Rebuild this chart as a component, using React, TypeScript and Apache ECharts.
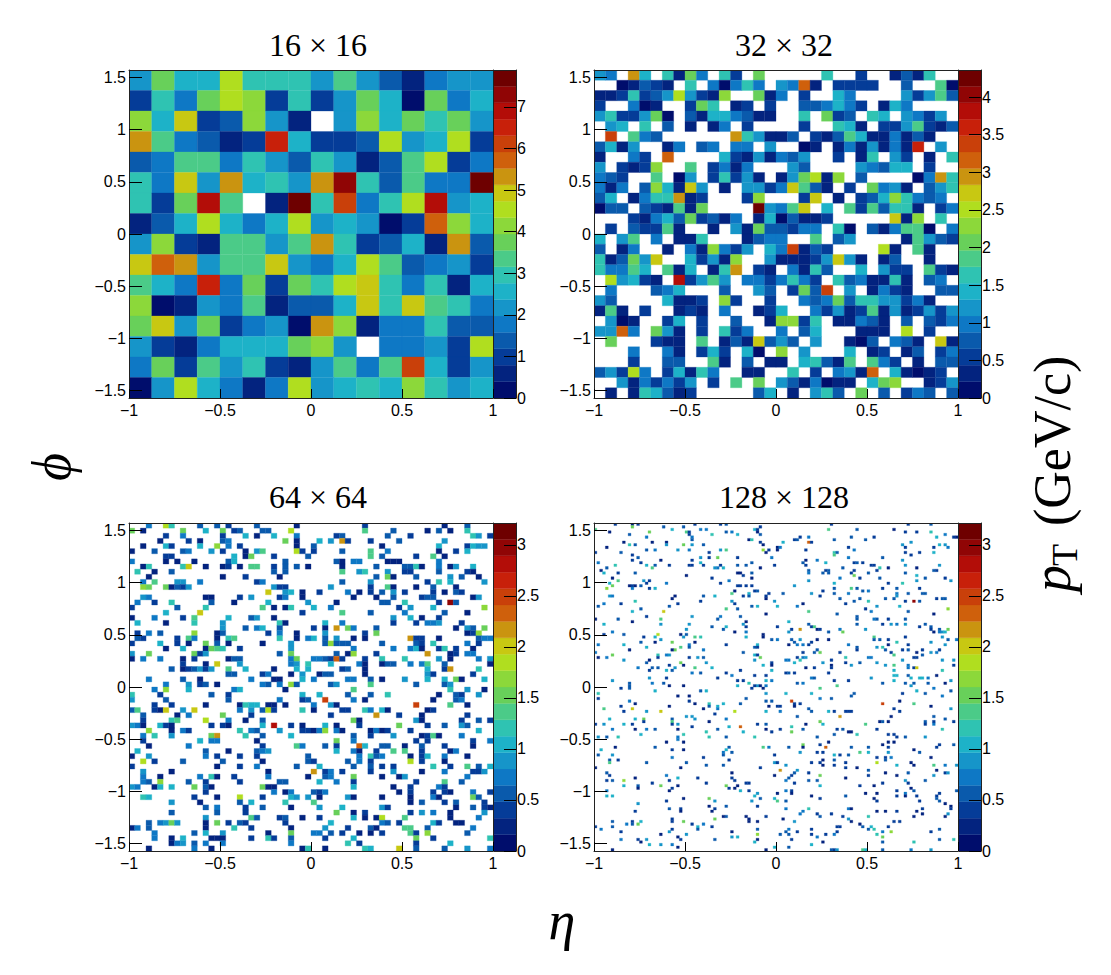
import React, { useEffect, useRef } from "react";
import * as echarts from "echarts";

const W = -1;
const palette = ["#000d6c","#03237f","#053c98","#0a5aac","#0e78c5","#1695c9","#1db2c8","#2fc3b2","#4bcb88","#68d05a","#8cd83a","#b0de1f","#c8c812","#ca9410","#cf600c","#c9400a","#c8200a","#b30d08","#900505","#6e0000"];

const xTicks = [-1, -0.5, 0, 0.5, 1];
const yTicks = [-1.5, -1, -0.5, 0, 0.5, 1, 1.5];
const zTicks16 = [0, 1, 2, 3, 4, 5, 6, 7];
const zTicks32 = [0, 0.5, 1, 1.5, 2, 2.5, 3, 3.5, 4];
const zTicks64 = [0, 0.5, 1, 1.5, 2, 2.5, 3];
const zMax16 = 7.89;
const zMax32 = 4.36;
const zMax64 = 3.215;
const zMax128 = 3.215;

// Colour-bin index read for every cell, top row first; W = empty.
const rows16 = [
[5,9,6,6,11,7,7,7,5,8,5,3,1,4,5,5],
[2,7,4,9,11,10,2,7,2,5,9,6,0,9,4,6],
[10,6,12,2,3,10,5,1,W,5,10,6,9,7,9,5],
[13,8,4,3,1,2,16,6,2,2,3,11,5,6,11,2],
[3,4,8,8,4,7,5,3,7,5,1,3,8,11,2,4],
[7,4,12,5,13,6,7,5,13,18,7,3,8,4,4,19],
[7,2,9,17,8,W,1,19,7,15,4,7,11,17,5,6],
[1,3,6,11,6,4,6,11,5,6,5,0,2,14,10,6],
[5,10,2,1,8,8,5,8,13,7,2,3,6,1,13,3],
[12,14,13,5,8,8,12,5,4,6,11,8,3,4,5,2],
[8,6,4,16,4,9,2,9,7,11,12,7,4,7,1,6],
[10,0,1,5,4,8,1,3,3,6,12,7,12,8,7,4],
[9,12,5,9,2,4,5,0,13,10,1,4,4,7,3,3],
[5,2,1,4,6,6,6,9,10,5,W,4,4,5,2,11],
[4,9,2,8,5,7,2,1,5,8,4,8,15,6,2,5],
[0,5,11,6,4,1,4,11,5,6,7,6,10,7,5,6],
];

const rows32 = [
[5,4,W,13,6,W,7,1,9,4,W,7,2,W,9,W,W,W,W,W,7,W,W,2,W,W,1,3,1,7,W,W],
[W,W,0,1,3,2,1,W,7,W,4,0,4,7,4,W,5,4,14,1,W,2,2,2,2,W,W,3,W,W,8,0],
[1,1,2,7,2,3,5,11,5,2,1,10,W,W,9,1,4,W,2,W,W,6,4,W,W,W,W,5,2,5,8,3],
[2,W,W,4,0,1,W,W,2,9,7,W,1,2,W,2,W,W,3,3,4,6,4,2,W,1,6,4,W,W,W,W],
[5,7,2,2,5,9,0,W,3,1,6,6,4,3,1,1,W,W,7,W,9,2,3,W,7,6,W,5,4,2,5,W],
[W,5,6,W,7,W,3,W,1,W,1,4,W,2,W,W,W,W,2,W,W,7,6,1,W,2,2,5,8,2,1,3],
[W,15,W,8,4,3,W,W,W,W,W,W,13,7,5,1,1,3,W,2,1,3,8,6,1,1,4,1,3,1,W,W],
[3,6,1,5,W,W,1,4,W,3,4,W,4,4,W,5,W,W,0,1,W,1,4,1,5,1,4,1,16,W,5,W],
[1,W,W,4,2,W,14,W,W,W,W,6,2,1,5,1,4,3,5,W,W,2,W,1,7,W,5,2,W,1,W,7],
[5,W,2,1,2,10,W,W,8,W,2,4,1,4,W,W,W,5,3,W,W,W,W,5,4,3,6,6,W,2,W,W],
[4,3,2,W,W,8,W,0,5,W,2,7,2,5,1,W,1,5,9,11,1,10,W,3,W,W,W,W,0,4,13,7],
[4,1,4,W,3,10,6,1,12,5,W,1,W,5,5,2,4,12,8,3,1,W,2,W,9,4,5,1,W,3,5,7],
[3,6,W,1,4,7,7,13,1,2,W,W,W,2,10,W,W,W,2,12,W,1,W,2,3,6,10,7,4,3,4,W],
[0,3,3,W,3,2,1,8,1,9,W,W,W,W,19,5,4,8,12,W,6,W,8,2,8,3,7,7,1,W,2,4],
[W,W,W,2,1,4,6,3,9,2,3,1,4,W,1,6,0,3,1,1,2,W,W,W,W,W,12,1,10,W,7,W],
[W,2,W,3,2,2,8,1,W,W,1,W,5,1,9,3,3,2,4,4,W,7,0,W,3,1,4,8,8,0,W,4],
[6,W,5,8,W,4,W,1,1,7,W,W,W,1,3,4,4,W,W,8,W,3,5,W,W,W,W,1,8,5,3,2],
[3,W,1,4,W,W,1,W,4,1,10,4,2,5,W,6,4,15,1,3,2,W,W,W,W,11,1,W,8,1,W,W],
[7,1,3,9,5,12,W,W,6,2,5,1,10,W,W,5,1,1,1,2,5,12,5,1,W,1,3,W,W,1,W,W],
[7,4,4,8,6,W,8,1,6,W,1,7,13,W,2,1,W,4,1,7,3,W,W,6,W,5,2,2,W,8,2,1],
[W,11,5,6,2,1,W,17,2,5,8,5,W,4,4,2,4,7,4,2,W,7,3,4,1,1,7,1,W,3,4,W],
[W,4,W,W,W,3,4,6,W,W,W,3,W,W,5,3,W,2,9,3,15,W,5,W,1,4,2,1,W,W,3,3],
[5,3,W,W,W,W,6,1,1,2,W,10,2,W,W,2,W,W,4,3,4,9,3,7,7,5,5,2,4,1,W,W],
[1,8,1,W,2,W,W,1,2,1,W,4,W,W,1,2,6,W,W,4,2,5,1,2,8,1,5,1,2,5,2,5],
[W,5,0,1,W,W,2,6,W,2,W,W,3,W,W,1,10,10,2,7,W,1,1,4,3,1,W,3,W,3,2,4],
[5,5,14,4,W,9,5,1,W,2,W,7,2,4,W,W,4,W,3,6,W,W,W,1,1,1,W,11,W,2,W,W],
[W,9,W,W,W,2,1,1,W,8,W,1,3,1,12,3,5,3,W,5,W,W,1,0,3,W,4,3,1,W,12,1],
[W,W,W,4,W,W,4,1,W,2,6,2,W,6,0,W,10,W,5,W,W,W,6,W,1,2,W,1,3,W,2,4],
[W,W,W,2,W,W,3,3,W,W,8,1,W,3,W,1,1,W,6,7,3,1,8,W,8,4,2,W,1,W,3,3],
[3,5,2,11,4,W,2,6,1,7,4,W,W,1,1,W,W,7,W,2,W,4,5,1,14,W,6,1,0,1,2,W],
[W,W,5,1,4,2,4,2,5,W,2,W,8,W,9,W,5,3,1,4,0,1,1,W,6,9,10,W,W,1,2,5],
[W,1,W,1,7,6,3,1,2,W,W,W,W,W,3,6,W,1,W,5,7,3,W,9,W,3,W,2,4,3,W,3],
];

// Each row: column, bin, column, bin ...
const sparse64 = [
[3,4,6,11,7,7,12,3,15,3,17,2,22,3,29,1,41,2,55,1,59,3],
[0,9,2,1,9,9,13,6,16,9,18,2,19,3,23,3,24,3,28,11,41,8,46,3,52,1,54,3,56,1,59,7],
[6,2,9,4,16,2,20,6,22,1,25,6,29,4,36,2,37,3,45,3,49,2,60,7,61,5,63,2],
[5,1,10,2,12,1,16,3,17,4,27,9,29,1,33,6,35,5,37,13,38,2,42,2,47,3,55,5],
[2,1,6,6,7,2,12,6,15,10,17,4,19,2,29,1,32,3,44,1,54,6,59,2,60,6,61,5,62,5],
[0,1,4,3,9,3,10,4,14,5,16,2,20,1,22,5,23,8,29,11,30,2,32,2,37,3,42,8,45,4,54,1,57,2,59,6],
[6,2,7,2,18,6,20,1,21,9,25,2,31,3,42,8,44,3,50,2,53,8,55,1],
[0,4,6,1,8,1,11,1,17,3,18,6,27,3,36,3,37,1,39,4,40,4,45,1,46,1,47,1,54,4],
[2,1,3,7,9,7,10,12,13,1,16,1,17,2,19,1,21,8,22,8,25,2,27,3,29,3,31,1,37,1,43,3,48,3,49,3,50,7,51,1,54,4,56,1,57,5,60,6],
[1,7,4,1,7,3,25,3,27,3,37,8,40,5,41,7,45,5,48,2,49,2,54,3,59,2,60,1],
[3,1,16,1,20,2,26,1,43,3,45,9,46,1,50,3,56,5,58,3,61,1],
[2,4,4,8,8,5,9,5,12,4,22,2,23,4,37,3,42,5,52,2,54,7,56,6,62,5],
[2,10,3,9,6,9,7,1,8,3,9,2,10,5,25,5,26,2,27,2,35,5,42,2,45,8,46,1,50,1,53,3,57,1],
[24,12,27,5,28,6,30,1,33,2,38,4,40,1,42,2,44,3,46,5,48,2,53,2,55,1,57,3,58,2],
[2,5,3,4,13,1,14,1,19,2,21,5,26,2,27,4,30,1,39,1,43,1,46,3,51,2,52,3,53,3,60,1,61,5],
[1,4,4,2,7,7,14,3,18,1,24,6,31,5,36,1,44,3,45,3,48,7,54,2,56,18,57,3],
[0,2,8,3,13,7,23,8,25,1,27,1,28,7,32,6,35,4,47,2,49,5,53,6,62,10],
[6,6,12,12,30,2,37,8,42,3,48,4,55,3,59,1],
[0,1,4,4,9,2,11,8,17,6,21,3,22,5,25,1,46,5,49,6,51,1,54,2],
[1,6,6,1,11,7,16,5,26,7,27,1,34,6,37,4,46,2,50,2,52,4,53,4,54,5,58,2],
[16,5,20,3,22,4,23,6,26,3,32,2,34,1,36,13,38,9,39,4,43,3,57,1,59,5,60,3,62,9],
[1,2,3,4,5,3,11,10,15,1,16,3,24,2,26,4,29,1,34,5,41,2,43,9,59,1,60,2,61,10],
[1,3,2,2,8,2,10,8,11,4,15,1,17,7,18,8,26,7,29,1,31,4,32,6,34,3,36,5,39,1,41,1,49,13,50,2,51,2,54,1,61,3,62,4,63,4],
[0,2,5,6,8,2,10,1,13,9,15,3,17,1,23,1,28,5,34,3,35,10,36,3,37,3,38,3,44,3,50,3,51,2,53,7,59,4,61,2],
[6,1,9,6,13,1,14,9,15,8,16,7,19,2,28,5,39,4,46,4,49,4,50,6,51,1,54,2,55,7,57,2,60,1],
[0,5,3,9,11,9,12,2,13,5,26,3,28,9,36,3,38,1,39,10,43,2,52,13,56,1,57,2,59,4,60,4],
[0,1,2,4,5,4,9,1,11,2,17,1,18,3,19,3,28,4,29,9,32,4,33,4,34,3,35,2,36,14,37,2,41,2,44,7,48,7,54,5,56,1,61,4,63,5],
[9,2,13,1,15,12,19,5,28,4,29,5,31,7,35,6,40,4,41,1,44,1,45,3,46,3,49,4,51,4,52,8,55,3,63,1],
[7,3,9,1,10,2,11,3,12,5,13,2,14,5,17,8,20,6,25,1,29,6,31,6,37,2,38,3,41,1,52,6,55,2,56,13,61,7],
[17,3,18,3,23,2,24,4,28,1,30,5,33,1,34,3,35,3,41,1,52,5,53,2,60,2],
[3,4,9,3,12,1,21,4,25,1,26,1,30,6,32,4,38,4,39,4,42,3,44,1,48,5,52,6,55,6,57,9,58,1,62,6],
[6,4,10,5,12,2,13,3,15,1,23,4,24,3,26,4,28,10,29,3,35,3,36,5,42,8,50,3,55,3,56,5],
[4,4,6,10,10,6,18,4,19,6,27,1,39,8,56,7,59,5,62,1],
[0,7,5,2,14,3,17,2,30,6,33,6,38,3,42,3,45,7,54,1,57,3,58,2,61,5],
[0,5,6,3,17,3,26,4,30,2,31,3,34,15,39,4,41,1,53,1,57,3,58,4],
[4,2,7,2,13,1,19,1,20,7,21,6,22,6,24,1,25,1,27,1,32,4,35,5,36,1,50,15,56,8,59,1],
[0,3,1,8,4,2,5,1,6,12,9,5,11,12,19,4,21,5,23,3,24,11,25,2,30,7,32,1,37,2,38,2,41,7,42,4,44,6,45,1,52,1,53,2],
[2,3,8,1,10,4,16,9,21,2,35,2,43,13,47,2,51,1,59,2],
[2,2,7,7,8,8,13,11,17,4,20,1,23,3,39,9,40,1,50,5,51,1,58,2,61,3,63,2],
[0,5,1,4,2,1,5,6,6,2,7,1,14,2,16,2,17,1,23,6,25,17,28,2,30,1,34,6,36,1,40,2,47,9,52,2,55,3,58,5,59,3],
[3,10,7,1,9,4,10,2,19,7,21,4,22,3,26,5,30,2,31,2,32,1,33,4,34,10,36,4,37,1,42,1,43,4,44,1,45,2,49,2,61,6],
[2,4,4,7,7,5,14,9,15,13,20,7,23,3,28,6,39,3,42,2,46,5,51,1,52,2,53,8,54,1,58,4],
[2,2,12,6,14,4,15,4,22,1,36,9,39,4,50,2,52,2,60,2,63,4],
[3,1,10,4,23,2,29,8,30,4,34,3,36,2,40,14,41,6,44,3,45,3,48,1,51,3,55,2,60,1],
[1,6,13,3,17,1,22,3,23,4,24,5,36,6,39,4,40,1,43,2,46,8,48,8,51,2,56,1,57,4],
[0,1,3,5,13,4,15,2,19,2,22,2,31,3,40,4,42,7,43,3,44,4,49,1,51,2,52,6,55,4,59,1],
[2,11,4,2,9,3,16,3,23,1,31,3,32,2,38,3,40,4,42,2,49,11,51,2,55,1],
[0,2,15,1,19,2,22,4,29,3,33,6,39,3,42,3,44,2,46,2,53,7,56,2,59,8,61,3,63,6],
[2,5,7,1,24,1,32,13,34,2,35,4,37,2,42,2,46,5,51,1,55,4,60,2,61,2,62,5],
[2,4,5,1,12,4,14,7,15,1,18,2,24,4,31,1,34,3,35,4,39,9,44,1,47,1,48,5,59,4],
[2,4,3,3,5,10,10,3,13,2,19,2,26,3,27,3,33,6,36,4,39,2,50,2,55,8,58,3],
[0,5,1,4,4,1,5,6,7,6,11,9,13,3,14,1,23,9,24,1,25,1,39,6,46,1,49,2,54,4,55,2],
[13,2,25,4,27,1,28,4,32,3,33,2,34,4,47,1,49,2,53,2,55,2,56,1,60,4,63,2],
[2,7,3,6,11,2,15,1,19,11,23,2,28,6,29,5,31,5,33,1,38,5,39,1,44,1,49,1,53,4,54,1,60,9,61,3],
[7,5,12,1,19,3,21,6,27,7,32,8,49,1,51,3,55,2,57,3,62,2],
[13,3,15,4,20,2,23,3,28,1,33,5,37,6,44,5,45,2,57,1,60,3,62,2,63,1],
[7,3,15,3,20,2,36,9,39,1,41,2,49,2,51,5,53,4,56,1,62,5],
[13,5,21,8,22,3,26,2,27,3,30,1,33,2,39,6,41,1,43,1,44,11,48,8,56,1,61,4],
[3,3,5,4,6,5,7,9,8,5,13,1,15,9,17,2,19,3,20,2,27,2,35,6,44,4,45,3,47,2,53,6,54,2,57,1,58,1],
[0,1,1,4,3,3,13,1,18,7,21,2,28,1,34,5,38,2,42,3,43,1,48,8,49,8,52,3,60,4],
[4,4,11,3,13,6,16,5,24,1,28,9,32,4,33,4,35,3,37,2,40,1,42,1,44,2,49,8,50,2,52,10,59,3],
[4,4,7,1,9,6,14,1,15,1,16,1,21,2,24,7,25,2,28,3,34,2,39,6,50,9,53,2,63,7],
[7,1,8,4,9,5,11,3,13,4,16,4,28,4,38,7,40,2,50,2,56,6],
[3,1,11,4,14,1,30,1,31,7,34,1,41,7,42,6,47,12,50,3,55,3,59,5,63,4],
];

// Triples: column, row, bin.
const sparse128 = [
7,0,2,13,0,1,15,0,2,24,1,3,31,1,3,35,0,2,44,0,2,46,0,3,58,1,2,0,2,8,13,1,9,27,2,6,37,2,4,39,2,4,56,2,6,57,2,2,
5,3,1,19,3,9,32,3,8,33,3,2,46,3,3,48,3,4,50,4,6,41,4,7,12,4,3,33,4,2,57,3,1,58,4,3,18,5,4,34,5,4,54,6,1,55,6,7,
10,7,1,20,7,1,25,7,1,34,6,3,58,7,2,12,8,7,14,8,3,25,8,5,31,8,9,34,8,5,38,8,3,59,8,1,4,9,1,64,9,1,18,10,3,21,10,4,29,10,5,33,10,4,44,10,5,46,10,8,59,10,10,61,10,2,64,10,1,
0,11,2,9,11,3,40,11,2,13,12,2,60,11,1,15,13,3,37,13,5,40,13,2,43,13,9,50,13,2,62,13,4,13,14,2,23,14,1,34,14,2,1,15,4,16,15,2,37,15,6,55,15,3,
18,16,6,21,16,3,26,16,2,33,16,2,34,16,2,38,16,2,7,16,7,44,16,2,50,16,3,53,16,3,63,16,2,4,17,3,20,17,8,42,17,5,43,17,4,45,17,6,58,17,1,2,18,1,3,19,6,8,19,2,14,19,3,50,19,1,51,19,1,55,19,3,52,20,2,32,20,1,6,21,1,41,21,2,
17,22,5,19,22,2,8,22,8,47,22,4,55,21,1,5,23,6,18,23,2,25,23,4,44,23,2,6,24,9,12,24,1,13,24,2,14,24,1,16,24,3,50,24,2,51,24,2,53,24,2,55,24,2,
4,25,10,13,25,4,19,25,2,21,25,6,49,26,1,56,26,2,57,26,3,48,27,8,54,27,6,61,27,2,54,28,3,5,28,5,6,28,4,38,28,3,42,28,6,52,28,2,60,28,2,28,28,1,27,29,1,60,29,1,37,30,2,48,30,5,63,30,5,
3,31,4,9,31,2,14,30,7,29,31,2,49,31,2,1,32,3,26,32,3,55,32,3,57,32,6,64,32,6,50,33,3,16,33,3,46,33,8,13,34,6,24,34,12,60,35,1,18,36,2,51,36,3,44,36,4,34,36,5,
0,37,1,8,37,3,23,37,8,43,37,3,53,38,1,13,38,1,3,39,6,23,39,5,33,39,5,52,39,5,32,41,5,41,40,3,46,40,6,64,40,2,45,41,3,53,40,2,49,42,1,53,42,4,6,42,4,
3,43,2,10,43,3,30,43,1,32,43,3,22,43,11,59,43,1,17,44,2,21,44,6,35,44,8,37,44,7,53,44,6,59,44,1,31,44,5,23,45,5,62,45,3,64,45,4,16,46,3,21,46,1,27,46,9,35,46,1,1,47,4,10,47,6,33,47,4,46,47,2,57,47,6,
18,48,6,30,48,8,33,48,3,28,49,9,27,49,1,12,49,1,38,49,4,56,48,3,57,48,2,0,50,4,52,50,3,6,51,9,22,51,7,25,51,4,26,51,5,56,51,6,57,51,2,
1,52,1,4,52,4,22,52,2,33,52,2,36,52,5,38,52,3,58,52,9,10,53,5,19,53,1,56,53,5,39,54,5,30,54,9,62,54,2,18,54,3,26,55,2,59,55,6,31,55,1,62,55,1,
15,56,4,20,56,3,22,56,3,28,56,5,35,56,8,41,56,6,19,57,2,25,57,6,27,57,3,51,57,2,62,57,6,34,58,4,37,58,3,46,58,2,48,59,4,56,59,2,60,59,2,19,60,5,25,60,2,43,60,2,
50,61,2,52,61,2,6,61,5,20,62,4,24,62,3,60,61,6,62,61,4,12,62,3,54,62,7,57,63,5,56,63,2,12,63,3,26,63,1,31,63,1,50,63,6,58,63,1,60,63,4,
83,0,2,110,0,2,118,0,3,82,2,8,92,2,3,105,2,1,109,3,2,113,3,2,118,3,7,123,4,4,72,5,2,75,5,4,90,5,3,98,5,2,120,5,6,126,5,2,127,5,1,
66,7,6,70,6,2,71,6,3,75,7,14,76,7,2,84,6,3,95,6,3,111,7,5,65,9,4,74,10,2,89,9,2,91,10,4,108,8,5,109,9,2,119,9,2,121,8,6,123,8,5,124,9,4,
84,11,7,85,11,3,109,11,2,111,12,2,114,11,2,119,11,6,84,12,8,89,13,4,101,13,3,74,14,1,78,14,4,81,15,6,108,14,5,73,15,3,91,15,2,94,15,2,92,15,3,109,16,5,
74,16,2,97,16,2,98,16,2,121,16,5,113,17,1,100,17,7,103,17,1,87,17,3,99,18,2,75,18,3,75,19,4,80,19,3,81,18,2,82,18,3,82,19,3,90,19,2,91,18,2,96,19,3,109,19,3,119,18,3,120,18,2,91,20,9,113,20,6,
86,21,4,93,21,2,100,21,3,116,21,3,123,21,2,113,22,5,75,22,5,84,23,6,103,23,2,108,23,7,125,22,5,70,24,5,84,25,3,90,25,8,92,25,3,94,26,3,96,26,4,101,25,2,106,25,3,114,25,2,80,26,2,
66,27,3,76,27,5,84,27,3,89,27,4,110,27,3,115,27,3,116,27,3,106,27,4,79,28,2,106,28,5,86,29,3,93,29,3,102,29,3,105,29,3,109,30,2,120,29,2,122,29,3,123,29,3,91,30,3,96,30,7,112,30,18,114,30,3,
73,31,1,88,31,2,99,32,5,107,32,6,71,32,4,95,33,2,124,33,10,75,34,8,97,34,4,110,34,3,85,35,3,119,35,1,92,36,3,92,37,3,98,37,4,99,37,3,103,37,2,109,37,3,68,38,6,
75,39,3,76,40,2,77,40,8,92,39,3,101,39,2,104,39,5,106,39,4,109,39,5,114,40,2,116,39,3,118,40,3,69,41,2,72,41,13,78,41,1,79,41,2,86,41,4,95,41,5,124,41,9,121,41,3,122,42,5,118,41,2,119,42,1,121,42,4,123,42,6,
68,42,5,82,42,3,87,42,9,109,44,2,98,44,8,122,44,5,69,45,3,72,45,5,78,45,1,82,45,1,98,45,3,100,45,3,103,45,2,124,45,3,127,45,4,
68,47,1,70,46,3,71,47,4,73,47,4,75,47,2,76,46,2,89,47,4,92,48,3,99,48,5,101,48,7,103,47,1,106,46,7,110,47,2,118,46,5,123,47,5,78,49,3,92,49,2,102,49,3,108,49,2,110,49,3,115,49,2,121,49,2,
73,50,2,77,50,3,79,50,9,86,50,2,104,50,2,113,50,1,118,50,5,120,50,4,105,51,8,115,51,3,71,52,2,73,52,4,74,52,5,88,52,7,96,52,4,97,52,4,112,52,2,113,52,2,67,53,4,68,53,4,72,53,7,83,53,2,108,53,5,122,53,5,126,53,5,
70,54,6,80,54,5,88,54,2,93,54,3,99,54,5,83,55,1,90,55,5,102,55,5,105,55,8,110,55,4,126,55,2,74,56,1,77,56,2,83,56,2,112,56,2,113,56,12,110,56,4,105,57,6,122,57,7,67,58,2,68,58,3,70,58,2,82,58,2,
105,59,6,106,59,6,120,59,1,77,60,3,76,60,4,110,59,3,84,61,2,89,61,2,97,60,5,105,61,6,111,60,6,114,60,6,115,60,6,117,60,4,125,61,5,71,62,3,73,62,4,85,63,8,101,62,3,109,62,3,112,62,3,117,62,3,123,62,1,111,63,5,
12,64,3,21,65,6,9,64,2,37,65,3,39,65,6,55,64,2,59,64,1,79,64,8,113,65,6,119,64,4,125,65,3,1,66,7,60,66,5,67,66,6,76,66,6,91,66,3,108,66,2,116,66,3,29,67,1,33,67,1,
1,68,2,12,69,4,14,70,1,53,68,3,60,69,3,62,69,3,69,69,15,79,68,4,83,68,3,70,70,2,70,71,1,72,70,2,101,70,15,112,70,8,122,67,4,107,69,1,90,67,3,33,69,2,40,70,7,45,70,6,51,70,3,35,70,1,40,71,3,43,71,6,43,72,4,61,71,1,64,71,2,65,71,2,118,71,1,
3,72,8,9,71,2,10,73,2,13,72,12,23,73,12,18,73,5,26,71,1,49,73,11,60,73,6,75,72,3,76,73,3,82,73,6,84,73,2,88,73,2,89,73,2,90,73,2,105,72,2,107,73,2,125,72,5,38,72,1,65,73,4,
32,75,5,42,74,2,71,75,3,86,75,13,104,75,1,34,75,5,14,76,6,17,76,9,5,76,6,17,77,2,27,76,3,27,77,8,35,76,5,46,76,4,40,77,1,79,77,9,100,77,1,101,77,3,103,77,1,119,75,3,119,77,2,116,77,3,116,78,2,123,76,3,126,77,2,
0,78,2,3,78,5,10,78,6,13,78,2,47,79,6,51,79,14,57,78,2,60,78,3,34,79,2,27,78,2,29,78,5,74,78,1,80,78,6,95,78,8,119,78,4,
6,80,4,14,80,1,18,80,4,21,80,3,29,80,1,43,80,3,60,80,1,65,80,2,69,79,7,73,80,3,85,80,2,87,80,3,89,81,1,90,81,1,99,80,2,122,80,7,62,81,2,69,81,9,52,81,6,39,81,7,
46,83,3,40,83,7,8,83,7,1,83,5,4,83,3,16,82,6,29,83,4,31,82,7,56,83,7,84,82,3,92,82,7,103,82,2,105,82,2,116,83,5,109,83,3,78,83,3,106,83,2,
25,85,1,29,84,4,31,85,1,82,85,1,103,85,1,105,85,1,126,86,3,121,86,2,59,87,8,61,87,4,68,87,3,73,86,9,73,87,1,81,87,14,79,86,2,90,87,3,96,87,3,101,86,1,103,87,2,120,87,2,112,88,1,
7,87,1,21,87,3,27,88,2,31,88,1,47,87,3,2,88,6,46,88,6,45,89,4,48,89,3,72,89,5,78,89,2,80,89,2,84,90,6,86,90,2,89,90,3,93,89,8,96,89,6,103,89,5,114,89,3,
1,90,3,6,90,5,45,90,3,63,90,2,27,91,4,38,91,2,99,91,2,104,91,4,102,91,2,118,91,1,5,92,3,8,92,2,5,93,8,47,92,2,80,92,1,84,92,3,99,93,11,102,92,3,18,93,3,32,93,3,39,94,3,45,94,3,63,93,5,64,93,2,76,93,2,79,93,2,80,94,1,84,94,2,88,93,2,106,94,6,111,93,1,112,94,1,119,94,8,123,94,4,127,94,5,
0,95,1,30,95,1,58,95,2,67,94,5,71,96,5,88,95,2,92,95,1,96,96,3,102,97,1,110,97,3,120,96,1,123,97,2,124,97,5,65,96,13,70,97,3,75,97,2,48,97,1,4,97,3,
63,98,1,69,98,2,79,98,9,88,99,1,96,98,2,106,98,1,119,98,5,25,98,4,29,99,6,36,99,2,14,99,1,5,98,2,6,100,3,4,100,2,10,100,10,10,102,6,20,101,2,23,102,9,26,100,2,27,103,2,29,102,1,39,101,2,46,102,9,48,99,2,49,100,2,50,102,1,53,101,2,54,101,2,67,100,4,68,99,3,70,101,2,75,100,3,78,100,3,79,102,6,93,102,2,98,102,1,101,101,2,109,100,5,110,101,2,116,100,3,
4,104,4,15,102,3,15,103,1,26,104,1,47,103,2,49,103,1,51,104,6,54,104,2,57,105,5,64,105,1,67,104,4,69,104,2,69,105,1,76,106,1,111,103,1,112,104,3,106,104,2,109,105,4,95,105,1,99,105,1,106,106,2,109,106,1,113,106,2,121,105,2,120,106,2,127,104,3,4,106,6,6,106,6,
40,107,9,42,108,5,56,106,6,55,108,5,58,107,3,25,108,2,31,107,1,64,108,8,63,107,6,67,108,3,79,107,2,88,106,3,98,107,1,99,108,2,114,108,2,120,107,3,123,109,1,121,108,3,15,109,5,40,110,1,46,110,3,57,110,2,42,111,2,26,111,3,30,111,2,67,111,4,75,111,7,89,111,4,90,111,1,125,110,1,125,111,2,115,111,2,
14,112,2,30,112,1,41,112,1,73,112,4,72,113,4,78,113,2,83,113,2,99,112,1,102,112,1,106,112,2,113,112,1,124,113,5,46,114,3,53,114,1,60,114,2,79,114,3,87,114,2,96,114,7,112,114,1,45,114,1,115,113,1,89,115,5,66,115,1,54,115,1,42,115,9,105,116,2,107,116,2,123,114,1,
6,116,3,13,116,2,27,116,2,31,116,9,38,117,4,70,116,5,16,116,6,15,117,9,11,117,4,13,117,3,27,115,2,34,117,2,36,118,6,36,119,3,41,118,2,54,116,1,57,116,1,90,116,1,93,117,1,
6,118,3,0,118,2,2,119,4,26,120,5,27,119,2,57,119,3,67,120,3,68,119,4,71,120,2,76,119,2,85,118,2,86,118,2,85,120,2,94,118,3,96,119,3,97,118,6,98,119,7,101,120,4,104,120,10,103,118,2,118,120,2,121,119,3,9,120,2,48,120,1,
23,121,1,32,121,5,48,122,5,50,122,6,57,121,10,65,121,3,68,121,3,76,121,2,81,121,2,84,121,4,99,121,7,101,122,9,78,122,4,29,122,1,30,123,2,9,123,4,15,123,2,18,123,5,42,123,3,57,123,1,69,123,2,121,123,3,126,123,7,101,124,3,112,124,7,
16,124,1,56,124,6,80,124,1,19,125,6,23,125,5,27,125,4,29,126,1,63,126,6,68,126,3,76,125,6,6,127,1,60,127,1,83,127,3,84,127,2,85,127,5,94,127,8,95,127,6,101,127,3,111,127,4,118,127,5,
];

const PI2 = Math.PI / 2;
type Cell = [number, number, number, number, number];

function binValue(bin: number, zMax: number) {
  return ((bin + 0.5) * zMax) / 20;
}
function cell(n: number, col: number, row: number, bin: number, zMax: number): Cell {
  const dx = 2 / n;
  const dy = Math.PI / n;
  return [-1 + col * dx, -1 + (col + 1) * dx, PI2 - (row + 1) * dy, PI2 - row * dy, binValue(bin, zMax)];
}
function fromRows(rows: number[][], zMax: number) {
  const out: Cell[] = [];
  rows.forEach((r, row) => r.forEach((b, col) => { if (b >= 0) out.push(cell(rows.length, col, row, b, zMax)); }));
  return out;
}
function fromPairs(rows: number[][], zMax: number) {
  const out: Cell[] = [];
  rows.forEach((r, row) => { for (let i = 0; i + 1 < r.length; i += 2) out.push(cell(rows.length, r[i], row, r[i + 1], zMax)); });
  return out;
}
function fromTriples(t: number[], n: number, zMax: number) {
  const out: Cell[] = [];
  for (let i = 0; i + 2 < t.length; i += 3) out.push(cell(n, t[i], t[i + 1], t[i + 2], zMax));
  return out;
}
function colorBins(zMax: number) {
  return palette.map((_, i) => [0, 1, (i * zMax) / 20, ((i + 1) * zMax) / 20, binValue(i, zMax)]);
}
const minusText = (v: number) => String(v).replace("-", "\u2212");

const lineStyle = { color: "#222", width: 1 };
const labelStyle = { color: "#000", fontFamily: '"Liberation Sans", Arial, sans-serif', fontSize: 16 };

function makeRender(zMax: number) {
  return (_: any, api: any) => {
    const a = api.coord([api.value(0), api.value(3)]);
    const b = api.coord([api.value(1), api.value(2)]);
    const bin = Math.min(19, Math.floor((api.value(4) / zMax) * 20));
    const c = palette[bin];
    return {
      type: "rect",
      shape: { x: a[0], y: a[1], width: b[0] - a[0], height: b[1] - a[1] },
      style: { fill: c, stroke: c, lineWidth: 0.3 },
    };
  };
}

function buildOption() {
  const panels = [
    { left: 129, top: 70, data: fromRows(rows16, zMax16), z: zMax16, zt: zTicks16 },
    { left: 594, top: 70, data: fromRows(rows32, zMax32), z: zMax32, zt: zTicks32 },
    { left: 129, top: 523, data: fromPairs(sparse64, zMax64), z: zMax64, zt: zTicks64 },
    { left: 594, top: 523, data: fromTriples(sparse128, 128, zMax128), z: zMax128, zt: zTicks64 },
  ];
  const grid: any[] = [];
  const xAxis: any[] = [];
  const yAxis: any[] = [];
  const series: any[] = [];
  const frameX = (gridIndex: number, min: number, max: number, position: string) => ({
    type: "value", gridIndex, min, max, position, z: 10, axisLine: { show: true, onZero: false, lineStyle },
    axisTick: { show: false }, axisLabel: { show: false }, splitLine: { show: false },
  });
  const frameY = frameX;
  panels.forEach((p) => {
    const g = grid.length;
    grid.push({ left: p.left, top: p.top, width: 364, height: 328 });
    grid.push({ left: p.left + 365, top: p.top, width: 22, height: 328 });
    const xi = xAxis.length;
    const yi = yAxis.length;
    xAxis.push({
      type: "value", gridIndex: g, min: -1, max: 1, position: "bottom", z: 10,
      axisLine: { show: true, onZero: false, lineStyle },
      axisTick: { show: true, inside: true, length: 9, customValues: xTicks, lineStyle: { color: "#000" } },
      axisLabel: { show: true, customValues: xTicks, margin: 4, formatter: minusText, ...labelStyle },
      splitLine: { show: false },
    });
    xAxis.push(frameX(g, -1, 1, "top"));
    yAxis.push({
      type: "value", gridIndex: g, min: -PI2, max: PI2, position: "left", z: 10,
      axisLine: { show: true, onZero: false, lineStyle },
      axisTick: { show: true, inside: true, length: 13, customValues: yTicks, lineStyle: { color: "#000" } },
      axisLabel: { show: true, customValues: yTicks, margin: 3, formatter: minusText, ...labelStyle },
      splitLine: { show: false },
    });
    yAxis.push(frameY(g, -PI2, PI2, "right"));
    // colour bar
    xAxis.push(frameX(g + 1, 0, 1, "bottom"));
    xAxis.push(frameX(g + 1, 0, 1, "top"));
    yAxis.push({
      type: "value", gridIndex: g + 1, min: 0, max: p.z, position: "right", z: 10,
      axisLine: { show: true, onZero: false, lineStyle },
      axisTick: { show: true, inside: true, length: 12, customValues: p.zt, lineStyle: { color: "#000" } },
      axisLabel: { show: true, customValues: p.zt, margin: 1, formatter: minusText, ...labelStyle },
      splitLine: { show: false },
    });
    series.push({
      type: "custom", xAxisIndex: xi, yAxisIndex: yi, data: p.data, clip: true, silent: true,
      encode: { x: [0, 1], y: [2, 3] }, renderItem: makeRender(p.z),
    });
    series.push({
      type: "custom", xAxisIndex: xi + 2, yAxisIndex: yi + 2, data: colorBins(p.z), clip: true, silent: true,
      encode: { x: [0, 1], y: [2, 3] }, renderItem: makeRender(p.z),
    });
  });
  const serif = '"Liberation Serif", "Times New Roman", serif';
  const titleText = (text: string, x: number, y: number) => ({
    type: "text", x, y, z: 20,
    style: { text, font: `32px ${serif}`, fill: "#000", textAlign: "center", textVerticalAlign: "middle" },
  });
  const graphic = [
    titleText("16 \u00d7 16", 318, 45),
    titleText("32 \u00d7 32", 784, 45),
    titleText("64 \u00d7 64", 318, 497),
    titleText("128 \u00d7 128", 784, 497),
    {
      type: "text", x: 52, y: 467, rotation: Math.PI / 2, z: 20,
      style: { text: "\u03d5", font: `italic 54px ${serif}`, fill: "#000", textAlign: "center", textVerticalAlign: "middle" },
    },
    {
      type: "text", x: 562, y: 921, z: 20,
      style: { text: "\u03b7", font: `italic 54px ${serif}`, fill: "#000", textAlign: "center", textVerticalAlign: "middle" },
    },
    {
      type: "group", x: 1052, y: 592, rotation: Math.PI / 2, z: 20,
      children: [
        { type: "text", x: 0, y: 0, style: { text: "p", font: `italic 54px ${serif}`, fill: "#000", textAlign: "left", textVerticalAlign: "middle" } },
        { type: "text", x: 26, y: 13, style: { text: "T", font: `36px ${serif}`, fill: "#000", textAlign: "left", textVerticalAlign: "middle" } },
        { type: "text", x: 66, y: 0, style: { text: "(GeV/c)", font: `52px ${serif}`, fill: "#000", textAlign: "left", textVerticalAlign: "middle" } },
      ],
    },
  ];
  return { animation: false, backgroundColor: "#fff", grid, xAxis, yAxis, series, graphic };
}

export default function App() {
  const ref = useRef<HTMLDivElement>(null);
  useEffect(() => {
    const chart = echarts.init(ref.current!, undefined, { renderer: "svg" });
    chart.setOption(buildOption() as any);
    return () => chart.dispose();
  }, []);
  return <div ref={ref} style={{ position: "fixed", left: 0, top: 0, width: 1111, height: 975 }} />;
}
